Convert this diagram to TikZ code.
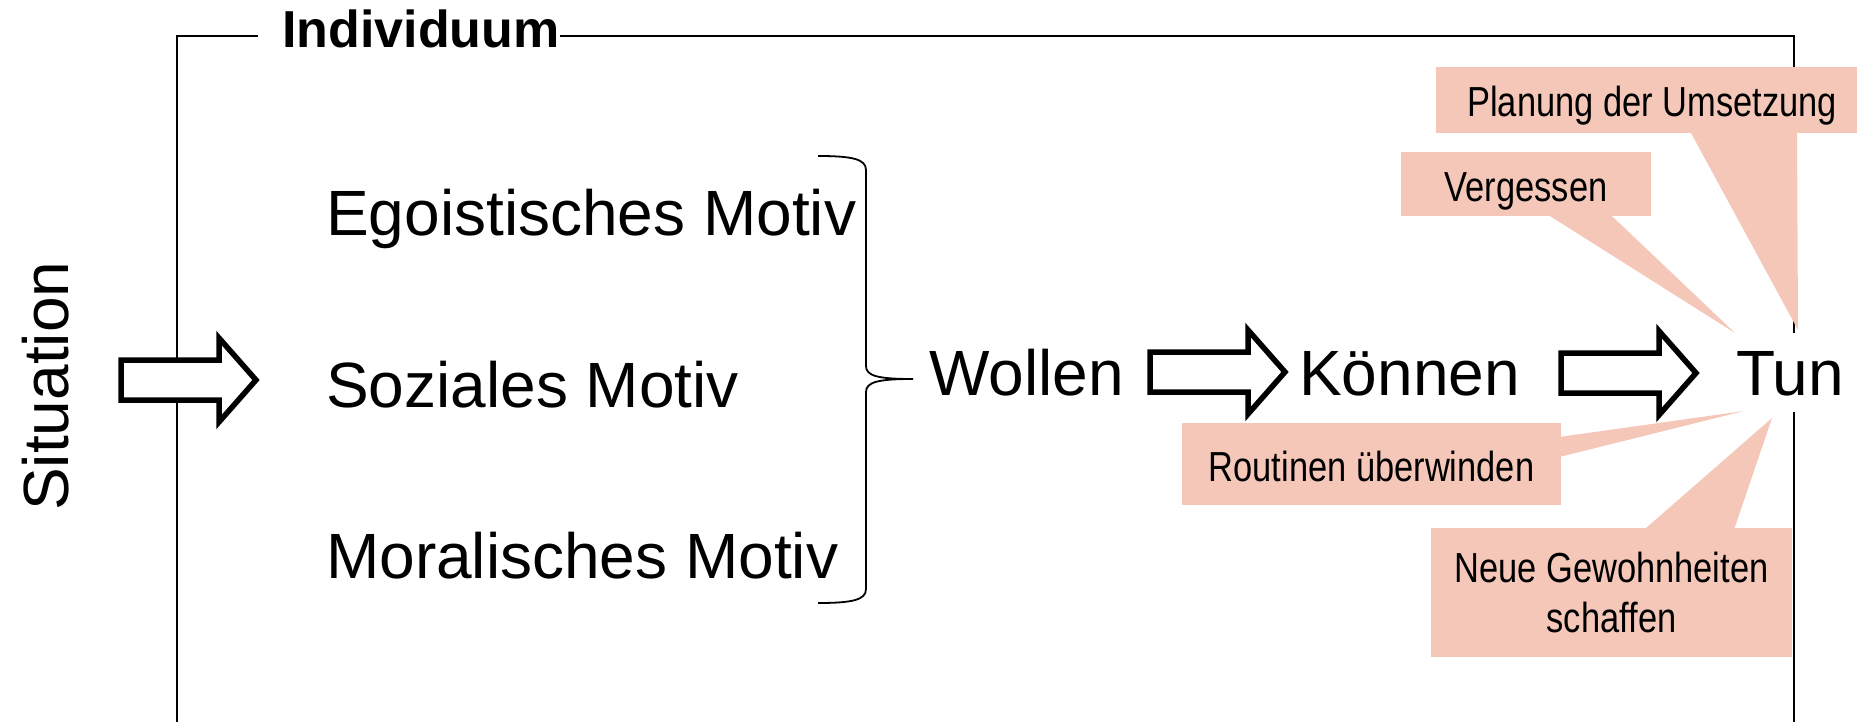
\documentclass[tikz,border=0pt]{standalone}
\usepackage{fontspec}
\setmainfont{Liberation Sans}
\newfontfamily\narrowfont[FakeStretch=0.82]{Liberation Sans}
\usetikzlibrary{calc}
\definecolor{callfill}{RGB}{244,199,185}
\tikzset{
  bigtext/.style={font=\fontsize{64}{76}\selectfont, inner sep=0pt, anchor=base west},
  calltext/.style={font=\narrowfont\fontsize{42}{50}\selectfont, fill=callfill, inner sep=0pt, align=center},
  oneline/.style={text height=34pt, text depth=0pt},
  frameline/.style={line width=1.8pt, draw=black},
  bracestyle/.style={line width=1.8pt, draw=black},
  blockarrow/.style={line width=5.5pt, fill=white, draw=black, miter limit=10, line join=miter},
  pics/blockarr/.style={code={\draw[blockarrow] (0,-20) -- (98,-20) -- (98,-42) -- (135,0) -- (98,42) -- (98,20) -- (0,20) -- cycle;}}
}
\begin{document}
\begin{tikzpicture}[x=1pt,y=-1pt]
\useasboundingbox (0,0) rectangle (1857,722);
% frame
\node[font=\bfseries\fontsize{52}{62}\selectfont, inner sep=0pt, anchor=base west] (ind) at (282,48) {Individuum};
\coordinate (fl) at (258,36);
\coordinate (fr) at (1794,36);
\draw[frameline] (177,722) -- (177,36) -- (fl);
\draw[frameline] (ind.east |- fl) -- (fr) -- (1794,722);
% situation
\node[bigtext, rotate=90] (sit) at (68,511) {Situation};
\pic at (121,380) {blockarr};
% motives
\node[bigtext] (ego) at (326,235) {Egoistisches Motiv};
\node[bigtext] (soz) at (326,407) {Soziales Motiv};
\node[bigtext] (mor) at (326,578) {Moralisches Motiv};
\draw[bracestyle] (818,156) .. controls (852,156) and (866,159) .. (866,170) -- (866,366) .. controls (866,376) and (878,379) .. (913,379) .. controls (878,379) and (866,382) .. (866,392) -- (866,589) .. controls (866,600) and (852,603) .. (818,603);
% chain
\node[bigtext] (wol) at (929,395) {Wollen};
\pic at (1150,372) {blockarr};
\node[bigtext] (kon) at (1299,395) {Können};
\pic at (1561,373) {blockarr};
\node[bigtext, fill=white, text height=62pt, text depth=17pt] (tun) at (1736,395) {Tun};
% callouts
\node[calltext, oneline, minimum width=432pt, minimum height=66pt] (plan) at (1652,100) {Planung der Umsetzung};
\node[calltext, oneline, minimum width=250pt, minimum height=64pt] (verg) at (1526,184) {Vergessen};
\node[calltext, oneline, minimum width=379pt, minimum height=82pt] (rout) at (1371.5,464) {Routinen überwinden};
\node[calltext, minimum width=361pt, minimum height=129pt] (neue) at (1611.5,592.5) {Neue Gewohnheiten\\schaffen};
\coordinate (tipP) at (1798,330);
\coordinate (tipV) at (1735,333);
\coordinate (tipR) at (1744,411);
\coordinate (tipN) at (1772,418);
\fill[callfill] ($(1690,0 |- plan.south)+(0,-2)$) -- (tipP) -- ($(1797,0 |- plan.south)+(0,-2)$) -- cycle;
\fill[callfill] ($(1547,0 |- verg.south)+(0,-2)$) -- (tipV) -- ($(1610,0 |- verg.south)+(0,-2)$) -- cycle;
\fill[callfill] ($(rout.east |- 0,437)+(-2,0)$) -- (tipR) -- ($(rout.east |- 0,457)+(-2,0)$) -- cycle;
\fill[callfill] ($(1644,0 |- neue.north)+(0,2)$) -- (tipN) -- ($(1734,0 |- neue.north)+(0,2)$) -- cycle;
\end{tikzpicture}
\end{document}
